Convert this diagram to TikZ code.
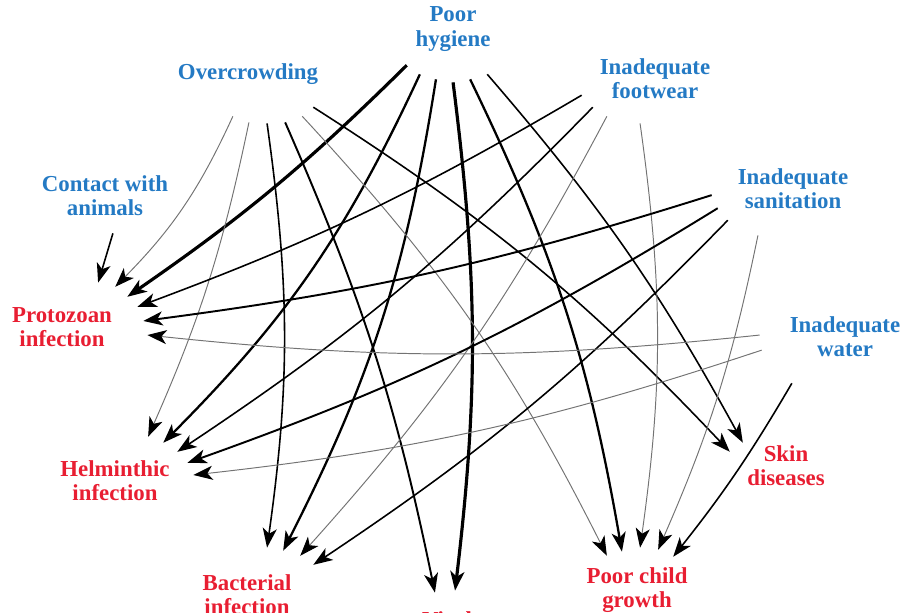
\documentclass[tikz,border=0pt]{standalone}
\usepackage{fontspec}
\setmainfont{Liberation Serif}
\usepackage{tikz}
\usetikzlibrary{arrows.meta,positioning}

\definecolor{causeblue}{RGB}{36,122,196}
\definecolor{effectred}{RGB}{232,30,50}

\begin{document}
\begin{tikzpicture}[
        x=0.2mm, y=0.2mm,
        % Style cho các nhãn nguyên nhân (xanh) và hậu quả (đỏ)
        cause/.style={align=center, text=causeblue, font=\fontsize{13}{13.8}\selectfont\bfseries, inner sep=0pt},
        effect/.style={align=center, text=effectred, font=\fontsize{13}{13.8}\selectfont\bfseries, inner sep=0pt},
        % Style cho điểm neo đầu/cuối mũi tên
        point/.style={circle, inner sep=0pt, minimum size=0pt},
        % Các độ đậm của mũi tên
        link/.style={-{Stealth[length=11pt,width=8pt,inset=3pt,black]}, line width=0.9pt},
        weak/.style={link, line width=0.55pt, black!55},
        strong/.style={link, line width=1.3pt},
        strongest/.style={link, line width=1.8pt}
    ]
        \clip (0,0) rectangle (901,-612);
        \useasboundingbox (0,0) rectangle (901,-612);

        % 1. Các nguyên nhân
        \node[cause] (hyg) at (453,-29) {Poor\\hygiene};
        \node[cause] (crowd) at (248,-74) {Overcrowding};
        \node[cause] (anim) at (105,-196) {Contact with\\animals};
        \node[cause] (foot) at (655,-79) {Inadequate\\footwear};
        \node[cause] (sanit) at (793,-189) {Inadequate\\sanitation};
        \node[cause] (water) at (845,-337) {Inadequate\\water};

        % 2. Các hậu quả
        \node[effect] (proto) at (62,-327) {Protozoan\\infection};
        \node[effect] (helm) at (115,-481) {Helminthic\\infection};
        \node[effect] (bact) at (247,-595) {Bacterial\\infection};
        \node[effect] (viral) at (447,-632) {Viral\\infection};
        \node[effect] (skin) at (786,-466) {Skin\\diseases};
        \node[effect] (growth) at (637,-590) {Poor child\\growth};

        % 3. Điểm xuất phát quanh các nguyên nhân
        \path (hyg.center) ++(-46,-36) node[point] (h1) {};
        \path (hyg.center) ++(-33,-45) node[point] (h2) {};
        \path (hyg.center) ++(-17,-50) node[point] (h3) {};
        \path (hyg.center) ++(0,-53) node[point] (h4) {};
        \path (hyg.center) ++(17,-50) node[point] (h5) {};
        \path (hyg.center) ++(34,-45) node[point] (h6) {};
        \path (crowd.center) ++(-15,-42) node[point] (c1) {};
        \path (crowd.center) ++(1,-48) node[point] (c2) {};
        \path (crowd.center) ++(19,-49) node[point] (c3) {};
        \path (crowd.center) ++(37,-48) node[point] (c4) {};
        \path (crowd.center) ++(54,-42) node[point] (c5) {};
        \path (crowd.center) ++(65,-33) node[point] (c6) {};
        \path (anim.center) ++(8,-37) node[point] (a1) {};
        \path (foot.center) ++(-73,-16) node[point] (f1) {};
        \path (foot.center) ++(-62,-28) node[point] (f2) {};
        \path (foot.center) ++(-48,-37) node[point] (f3) {};
        \path (foot.center) ++(-15,-44) node[point] (f4) {};
        \path (sanit.center) ++(-81,-6) node[point] (s1) {};
        \path (sanit.center) ++(-75,-19) node[point] (s2) {};
        \path (sanit.center) ++(-65,-31) node[point] (s3) {};
        \path (sanit.center) ++(-35,-46) node[point] (s4) {};
        \path (water.center) ++(-85,2) node[point] (w1) {};
        \path (water.center) ++(-83,-13) node[point] (w2) {};
        \path (water.center) ++(-53,-46) node[point] (w3) {};

        % 4. Điểm đến quanh các hậu quả
        \path (proto.center) ++(36,44) node[point] (p1) {};
        \path (proto.center) ++(53,40) node[point] (p2) {};
        \path (proto.center) ++(65,30) node[point] (p3) {};
        \path (proto.center) ++(75,20) node[point] (p4) {};
        \path (proto.center) ++(81,6) node[point] (p5) {};
        \path (proto.center) ++(85,-8) node[point] (p6) {};
        \path (helm.center) ++(33,44) node[point] (m1) {};
        \path (helm.center) ++(48,38) node[point] (m2) {};
        \path (helm.center) ++(62,29) node[point] (m3) {};
        \path (helm.center) ++(72,18) node[point] (m4) {};
        \path (helm.center) ++(78,6) node[point] (m5) {};
        \path (bact.center) ++(20,47) node[point] (b1) {};
        \path (bact.center) ++(36,44) node[point] (b2) {};
        \path (bact.center) ++(53,39) node[point] (b3) {};
        \path (bact.center) ++(66,30) node[point] (b4) {};
        \path (viral.center) ++(-12,39) node[point] (v1) {};
        \path (viral.center) ++(8,41) node[point] (v2) {};
        \path (skin.center) ++(-56,14) node[point] (k1) {};
        \path (skin.center) ++(-43,23) node[point] (k2) {};
        \path (growth.center) ++(-30,34) node[point] (g1) {};
        \path (growth.center) ++(-15,38) node[point] (g2) {};
        \path (growth.center) ++(3,42) node[point] (g3) {};
        \path (growth.center) ++(21,40) node[point] (g4) {};
        \path (growth.center) ++(36,33) node[point] (g5) {};

        % 5. Các mũi tên
        % Poor hygiene
        \draw[strongest] (h1) to[bend left=5] (p3);
        \draw[strong] (h2) to[bend left=10] (m2);
        \draw[strong] (h3) to[bend left=9] (b2);
        \draw[strongest] (h4) to[bend left=7] (v2);
        \draw[strong] (h5) to[bend left=8] (g2);
        \draw[link] (h6) to[bend left=6] (k2);
        % Overcrowding
        \draw[weak] (c1) to[bend left=10] (p2);
        \draw[weak] (c2) to[bend left=6] (m1);
        \draw[link] (c3) to[bend left=8] (b1);
        \draw[link, line width=1.1pt] (c4) to[bend left=6] (v1);
        \draw[weak] (c5) to[bend left=8] (g1);
        \draw[link] (c6) to[bend left=7] (k1);
        % Contact with animals
        \draw[link] (a1) -- (p1);
        % Inadequate footwear
        \draw[link] (f1) to[bend left=5] (p4);
        \draw[link] (f2) to[bend left=6] (m3);
        \draw[weak] (f3) to[bend left=7] (b3);
        \draw[weak] (f4) to[bend left=8] (g3);
        % Inadequate sanitation
        \draw[link, line width=1.1pt] (s1) to[bend left=5] (p5);
        \draw[link, line width=1.1pt] (s2) to[bend left=6] (m4);
        \draw[link] (s3) to[bend left=6] (b4);
        \draw[weak] (s4) to[bend left=6] (g4);
        % Inadequate water
        \draw[weak] (w1) to[bend left=6] (p6);
        \draw[weak] (w2) to[bend left=6] (m5);
        \draw[link] (w3) to[bend left=4] (g5);

    \end{tikzpicture}
\end{document}
